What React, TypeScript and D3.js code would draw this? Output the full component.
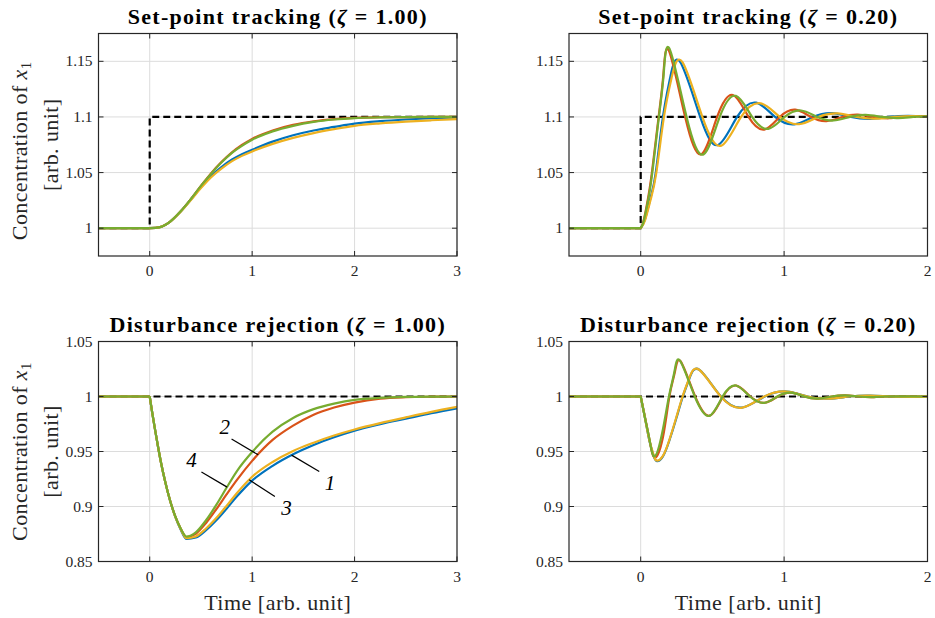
import React from 'react';
import * as d3 from 'd3';

// Line colours for the four controller variants (1..4)
const SERIES_COLORS = ['#0072BD', '#D95319', '#EDB120', '#77AC30'];

// ---------- Set-point tracking, zeta = 1.00 (shared time grid) ----------
const spSlowT = [-0.5, 0, 0.1, 0.2, 0.3, 0.4, 0.5, 0.6, 0.7, 0.8, 0.9, 1.0, 1.2, 1.4, 1.6, 1.8, 2.0, 2.25, 2.5, 2.75, 3.0];
const spSlow1 = [1, 1, 1.001, 1.006, 1.0148, 1.0255, 1.037, 1.047, 1.055, 1.0615, 1.0665, 1.0705, 1.0778, 1.0835, 1.0878, 1.091, 1.094, 1.0962, 1.0977, 1.0988, 1.0995];
const spSlow2 = [1, 1, 1.001, 1.006, 1.015, 1.026, 1.038, 1.0495, 1.0595, 1.068, 1.0748, 1.0803, 1.0878, 1.0928, 1.096, 1.098, 1.0992, 1.0997, 1.0999, 1.1, 1.1];
const spSlow3 = [1, 1, 1.001, 1.0058, 1.0145, 1.025, 1.036, 1.0458, 1.0535, 1.06, 1.065, 1.069, 1.0758, 1.0812, 1.0855, 1.089, 1.092, 1.0942, 1.0958, 1.097, 1.098];
const spSlow4 = [1, 1, 1.001, 1.006, 1.015, 1.026, 1.038, 1.049, 1.059, 1.0675, 1.074, 1.0795, 1.087, 1.092, 1.0955, 1.0977, 1.099, 1.0996, 1.0999, 1.1, 1.1];

// ---------- Set-point tracking, zeta = 0.20 ----------
const spFast1T = [-0.5, 0, 0.03, 0.07, 0.105, 0.155, 0.205, 0.275, 0.415, 0.54, 0.672, 0.805, 0.937, 1.07, 1.202, 1.335, 1.467, 1.6, 1.732, 1.865, 2.0];
const spFast1 = [1, 1, 1.008, 1.028, 1.05, 1.1, 1.135, 1.1495, 1.1, 1.0748, 1.1, 1.1128, 1.1, 1.0933, 1.1, 1.1034, 1.1, 1.0983, 1.1, 1.1009, 1.1003];
const spFast2T = [-0.5, 0, 0.02, 0.05, 0.08, 0.125, 0.158, 0.197, 0.31, 0.423, 0.533, 0.643, 0.752, 0.862, 0.97, 1.078, 1.187, 1.296, 1.405, 1.514, 1.623, 1.732, 1.841, 1.95, 2.0];
const spFast2 = [1, 1, 1.0065, 1.026, 1.052, 1.1, 1.138, 1.1595, 1.1, 1.0665, 1.1, 1.1197, 1.1, 1.0886, 1.1, 1.1065, 1.1, 1.0963, 1.1, 1.1021, 1.1, 1.0988, 1.1, 1.1007, 1.1006];
const spFast3T = [-0.5, 0, 0.03, 0.07, 0.109, 0.162, 0.215, 0.29, 0.43, 0.562, 0.7, 0.838, 0.97, 1.105, 1.238, 1.372, 1.506, 1.64, 1.772, 1.905, 2.0];
const spFast3 = [1, 1, 1.007, 1.026, 1.05, 1.1, 1.135, 1.1495, 1.1, 1.0742, 1.1, 1.1122, 1.1, 1.0935, 1.1, 1.1032, 1.1, 1.0984, 1.1, 1.1008, 1.1004];
const spFast4T = [-0.5, 0, 0.02, 0.05, 0.081, 0.127, 0.16, 0.201, 0.32, 0.4375, 0.551, 0.664, 0.777, 0.89, 1.004, 1.118, 1.232, 1.345, 1.458, 1.57, 1.683, 1.795, 1.9, 2.0];
const spFast4 = [1, 1, 1.006, 1.024, 1.05, 1.1, 1.138, 1.1612, 1.1, 1.0663, 1.1, 1.1189, 1.1, 1.0893, 1.1, 1.1058, 1.1, 1.0968, 1.1, 1.1018, 1.1, 1.099, 1.1, 1.1006];

// ---------- Disturbance rejection, zeta = 1.00 (shared time grid) ----------
const drSlowT = [-0.5, 0, 0.025, 0.05, 0.08, 0.11, 0.15, 0.2, 0.25, 0.3, 0.36, 0.45, 0.55, 0.65, 0.75, 0.85, 1.0, 1.2, 1.4, 1.6, 1.8, 2.0, 2.25, 2.5, 2.75, 3.0];
const drSlow1 = [1, 1, 0.985, 0.971, 0.955, 0.94, 0.923, 0.905, 0.8905, 0.8795, 0.8705, 0.8718, 0.8785, 0.8875, 0.898, 0.909, 0.9235, 0.937, 0.9475, 0.956, 0.963, 0.969, 0.9748, 0.9798, 0.9848, 0.9893];
const drSlow2 = [1, 1, 0.985, 0.971, 0.955, 0.94, 0.923, 0.905, 0.891, 0.8805, 0.8722, 0.8752, 0.885, 0.8975, 0.911, 0.924, 0.9415, 0.9605, 0.9735, 0.9835, 0.99, 0.9945, 0.998, 0.9993, 0.9998, 1.0];
const drSlow3 = [1, 1, 0.985, 0.971, 0.955, 0.94, 0.923, 0.905, 0.8905, 0.88, 0.8712, 0.8728, 0.88, 0.8895, 0.9005, 0.912, 0.927, 0.9405, 0.9505, 0.958, 0.9645, 0.97, 0.9758, 0.981, 0.986, 0.9905];
const drSlow4 = [1, 1, 0.985, 0.971, 0.955, 0.94, 0.923, 0.905, 0.891, 0.8805, 0.8727, 0.8765, 0.8875, 0.9015, 0.917, 0.932, 0.9495, 0.968, 0.9805, 0.9885, 0.9935, 0.997, 0.9988, 0.9996, 0.9999, 1.0];

// ---------- Disturbance rejection, zeta = 0.20 ----------
const drFast1T = [-0.5, 0, 0.03, 0.062, 0.09, 0.113, 0.155, 0.2, 0.248, 0.294, 0.34, 0.41, 0.56, 0.71, 0.865, 1.02, 1.165, 1.31, 1.455, 1.6, 1.75, 1.9, 2.0];
const drFast1 = [1, 1, 0.9805, 0.959, 0.946, 0.9412, 0.9455, 0.96, 0.98, 1.0, 1.0165, 1.0242, 1.0, 0.99, 1.0, 1.0045, 1.0, 0.998, 1.0, 1.0009, 1.0, 0.9997, 0.9998];
const drFast2T = [-0.5, 0, 0.03, 0.063, 0.099, 0.155, 0.2, 0.238, 0.279, 0.38, 0.482, 0.574, 0.667, 0.765, 0.864, 0.956, 1.048, 1.143, 1.238, 1.333, 1.428, 1.523, 1.618, 1.713, 2.0];
const drFast2 = [1, 1, 0.981, 0.9595, 0.9445, 0.963, 1.0, 1.022, 1.032, 1.0, 0.9826, 1.0, 1.0099, 1.0, 0.9943, 1.0, 1.0035, 1.0, 0.998, 1.0, 1.0011, 1.0, 0.9994, 1.0, 1.0];
const drFast3T = [-0.5, 0, 0.03, 0.062, 0.09, 0.11, 0.155, 0.2, 0.246, 0.292, 0.338, 0.408, 0.558, 0.708, 0.862, 1.018, 1.163, 1.308, 1.453, 1.598, 1.748, 1.898, 2.0];
const drFast3 = [1, 1, 0.9805, 0.9595, 0.947, 0.9418, 0.946, 0.9605, 0.98, 1.0, 1.0165, 1.0243, 1.0, 0.9899, 1.0, 1.0045, 1.0, 0.998, 1.0, 1.0009, 1.0, 0.9997, 0.9998];
const drFast4T = [-0.5, 0, 0.03, 0.062, 0.097, 0.15, 0.197, 0.235, 0.275, 0.377, 0.479, 0.571, 0.664, 0.762, 0.861, 0.953, 1.045, 1.14, 1.235, 1.33, 1.425, 1.52, 1.615, 1.71, 2.0];
const drFast4 = [1, 1, 0.9805, 0.9605, 0.9455, 0.967, 1.0, 1.0225, 1.0324, 1.0, 0.9824, 1.0, 1.01, 1.0, 0.9942, 1.0, 1.0035, 1.0, 0.998, 1.0, 1.0011, 1.0, 0.9994, 1.0, 1.0];

// Reference signals (dashed)
const refStepT = [-0.5, 0, 0, 3];
const refStepV = [1, 1, 1.1, 1.1];
const refStepFastT = [-0.5, 0, 0, 2];
const refFlatSlowT = [-0.5, 3];
const refFlatFastT = [-0.5, 2];
const refFlatV = [1, 1];

// Axis ticks
const xTicksSlow = [0, 1, 2, 3];
const xTicksFast = [0, 1, 2];
const yTicksSp = [1, 1.05, 1.1, 1.15];
const yTicksDr = [0.85, 0.9, 0.95, 1, 1.05];
const yTickLabelsSp = ['1', '1.05', '1.1', '1.15'];
const yTickLabelsDr = ['0.85', '0.9', '0.95', '1', '1.05'];

// Curve labels with leader lines (data coordinates), disturbance panel zeta = 1
const curveLabels = ['1', '2', '3', '4'];
const labelTextT = [1.76, 0.733, 1.336, 0.408];
const labelTextV = [0.9215, 0.9727, 0.8988, 0.9425];
const leaderFromT = [1.655, 0.799, 1.222, 0.505];
const leaderFromV = [0.9318, 0.9613, 0.9091, 0.9313];
const leaderToT = [1.385, 1.059, 0.971, 0.756];
const leaderToV = [0.9467, 0.947, 0.9243, 0.9176];

const FONT = "'Liberation Serif', 'DejaVu Serif', serif";
const AXIS_COLOR = '#262626';

type Series = { t: number[]; v: number[] };

type PanelProps = {
  id: string;
  left: number;
  top: number;
  width: number;
  height: number;
  xDomain: [number, number];
  yDomain: [number, number];
  xTicks: number[];
  yTicks: number[];
  yTickLabels: string[];
  series: Series[];
  refT: number[];
  refV: number[];
  curve: d3.CurveFactory;
  title: React.ReactNode;
  yLabel?: boolean;
  yLabelOffset?: number;
  xLabel?: boolean;
  labels?: boolean;
};

function Panel(p: PanelProps) {
  const x = d3.scaleLinear().domain(p.xDomain).range([p.left, p.left + p.width]);
  const y = d3.scaleLinear().domain(p.yDomain).range([p.top + p.height, p.top]);
  const bottom = p.top + p.height;
  const right = p.left + p.width;

  const straight = d3
    .line<[number, number]>()
    .x((d) => x(d[0]))
    .y((d) => y(d[1]));
  const smooth = d3
    .line<[number, number]>()
    .x((d) => x(d[0]))
    .y((d) => y(d[1]))
    .curve(p.curve);

  const pairs = (t: number[], v: number[]) => t.map((tt, i) => [tt, v[i]] as [number, number]);
  const tickLen = 5;
  const cx = p.left + p.width / 2;

  return (
    <g>
      <defs>
        <clipPath id={`clip-${p.id}`}>
          <rect x={p.left} y={p.top} width={p.width} height={p.height} />
        </clipPath>
      </defs>
      <rect x={p.left} y={p.top} width={p.width} height={p.height} fill="#ffffff" />
      {/* grid */}
      <g stroke="#dcdcdc" strokeWidth={1}>
        {p.xTicks.map((t) => (
          <line key={`gx${t}`} x1={x(t)} x2={x(t)} y1={p.top} y2={bottom} />
        ))}
        {p.yTicks.map((v) => (
          <line key={`gy${v}`} x1={p.left} x2={right} y1={y(v)} y2={y(v)} />
        ))}
      </g>
      <g clipPath={`url(#clip-${p.id})`}>
        <path
          d={straight(pairs(p.refT, p.refV)) || ''}
          fill="none"
          stroke="#000000"
          strokeWidth={2.2}
          strokeDasharray="7,4"
        />
        {p.series.map((s, i) => {
          const pts = pairs(s.t, s.v);
          const pre = pts.filter((d) => d[0] <= 0);
          const post = pts.filter((d) => d[0] >= 0);
          return (
            <g key={i} stroke={SERIES_COLORS[i]} strokeWidth={2.2} fill="none" strokeLinejoin="round">
              <path d={straight(pre) || ''} />
              <path d={smooth(post) || ''} />
            </g>
          );
        })}
      </g>
      {p.labels && (
        <g>
          {curveLabels.map((lab, i) => (
            <g key={lab}>
              <line
                x1={x(leaderFromT[i])}
                y1={y(leaderFromV[i])}
                x2={x(leaderToT[i])}
                y2={y(leaderToV[i])}
                stroke="#000000"
                strokeWidth={1.2}
              />
              <text
                x={x(labelTextT[i])}
                y={y(labelTextV[i])}
                textAnchor="middle"
                dominantBaseline="central"
                style={{ fontFamily: FONT, fontStyle: 'italic', fontSize: 21 }}
                fill="#000000"
              >
                {lab}
              </text>
            </g>
          ))}
        </g>
      )}
      {/* box and ticks */}
      <rect x={p.left} y={p.top} width={p.width} height={p.height} fill="none" stroke={AXIS_COLOR} strokeWidth={1.2} />
      <g stroke={AXIS_COLOR} strokeWidth={1}>
        {p.xTicks.map((t) => (
          <g key={`tx${t}`}>
            <line x1={x(t)} x2={x(t)} y1={bottom} y2={bottom - tickLen} />
            <line x1={x(t)} x2={x(t)} y1={p.top} y2={p.top + tickLen} />
          </g>
        ))}
        {p.yTicks.map((v) => (
          <g key={`ty${v}`}>
            <line x1={p.left} x2={p.left + tickLen} y1={y(v)} y2={y(v)} />
            <line x1={right} x2={right - tickLen} y1={y(v)} y2={y(v)} />
          </g>
        ))}
      </g>
      <g style={{ fontFamily: FONT, fontSize: 15.5 }} fill={AXIS_COLOR}>
        {p.xTicks.map((t) => (
          <text key={`lx${t}`} x={x(t)} y={bottom + 20} textAnchor="middle">
            {t}
          </text>
        ))}
        {p.yTicks.map((v, i) => (
          <text key={`ly${v}`} x={p.left - 6} y={y(v)} dy="0.33em" textAnchor="end">
            {p.yTickLabels[i]}
          </text>
        ))}
      </g>
      <text
        x={cx}
        y={p.top - 10}
        textAnchor="middle"
        style={{ fontFamily: FONT, fontWeight: 'bold', fontSize: 22, letterSpacing: 1.3 }}
        fill="#000000"
      >
        {p.title}
      </text>
      {p.xLabel && (
        <text
          x={cx}
          y={bottom + 48}
          textAnchor="middle"
          style={{ fontFamily: FONT, fontSize: 22, letterSpacing: 0.5 }}
          fill={AXIS_COLOR}
        >
          Time [arb. unit]
        </text>
      )}
      {p.yLabel && (
        <g style={{ fontFamily: FONT, fontSize: 22, letterSpacing: 0.4 }} fill={AXIS_COLOR}>
          <text
            transform={`translate(27,${p.top + p.height / 2 + (p.yLabelOffset || 0)}) rotate(-90)`}
            textAnchor="middle"
          >
            Concentration of <tspan style={{ fontStyle: 'italic' }}>x</tspan>
            <tspan style={{ fontSize: 15 }} dy={4}>
              1
            </tspan>
          </text>
          <text transform={`translate(58,${p.top + p.height / 2}) rotate(-90)`} textAnchor="middle">
            [arb. unit]
          </text>
        </g>
      )}
    </g>
  );
}

function titleFor(kind: string, zeta: string) {
  return (
    <>
      {kind} (<tspan style={{ fontStyle: 'italic' }}>ζ</tspan> = {zeta})
    </>
  );
}

export default function App() {
  const leftX = 98.5;
  const rightX = 569;
  const w = 358.5;
  const topY = 33.5;
  const botY = 341.5;
  const hTop = 222.5;
  const hBot = 220;

  return (
    <svg
      width={935}
      height={618}
      viewBox="0 0 935 618"
      style={{ position: 'fixed', left: 0, top: 0, background: '#ffffff' }}
    >
      <rect width={935} height={618} fill="#ffffff" />
      <Panel
        id="sp1"
        left={leftX}
        top={topY}
        width={w}
        height={hTop}
        xDomain={[-0.5, 3]}
        yDomain={[0.975, 1.175]}
        xTicks={xTicksSlow}
        yTicks={yTicksSp}
        yTickLabels={yTickLabelsSp}
        series={[
          { t: spSlowT, v: spSlow1 },
          { t: spSlowT, v: spSlow2 },
          { t: spSlowT, v: spSlow3 },
          { t: spSlowT, v: spSlow4 },
        ]}
        refT={refStepT}
        refV={refStepV}
        curve={d3.curveMonotoneX}
        title={titleFor('Set-point tracking', '1.00')}
        yLabel
        yLabelOffset={6}
      />
      <Panel
        id="sp2"
        left={rightX}
        top={topY}
        width={w}
        height={hTop}
        xDomain={[-0.5, 2]}
        yDomain={[0.975, 1.175]}
        xTicks={xTicksFast}
        yTicks={yTicksSp}
        yTickLabels={yTickLabelsSp}
        series={[
          { t: spFast1T, v: spFast1 },
          { t: spFast2T, v: spFast2 },
          { t: spFast3T, v: spFast3 },
          { t: spFast4T, v: spFast4 },
        ]}
        refT={refStepFastT}
        refV={refStepV}
        curve={d3.curveNatural}
        title={titleFor('Set-point tracking', '0.20')}
      />
      <Panel
        id="dr1"
        left={leftX}
        top={botY}
        width={w}
        height={hBot}
        xDomain={[-0.5, 3]}
        yDomain={[0.85, 1.05]}
        xTicks={xTicksSlow}
        yTicks={yTicksDr}
        yTickLabels={yTickLabelsDr}
        series={[
          { t: drSlowT, v: drSlow1 },
          { t: drSlowT, v: drSlow2 },
          { t: drSlowT, v: drSlow3 },
          { t: drSlowT, v: drSlow4 },
        ]}
        refT={refFlatSlowT}
        refV={refFlatV}
        curve={d3.curveMonotoneX}
        title={titleFor('Disturbance rejection', '1.00')}
        yLabel
        xLabel
        labels
      />
      <Panel
        id="dr2"
        left={rightX}
        top={botY}
        width={w}
        height={hBot}
        xDomain={[-0.5, 2]}
        yDomain={[0.85, 1.05]}
        xTicks={xTicksFast}
        yTicks={yTicksDr}
        yTickLabels={yTickLabelsDr}
        series={[
          { t: drFast1T, v: drFast1 },
          { t: drFast2T, v: drFast2 },
          { t: drFast3T, v: drFast3 },
          { t: drFast4T, v: drFast4 },
        ]}
        refT={refFlatFastT}
        refV={refFlatV}
        curve={d3.curveNatural}
        title={titleFor('Disturbance rejection', '0.20')}
        xLabel
      />
    </svg>
  );
}
